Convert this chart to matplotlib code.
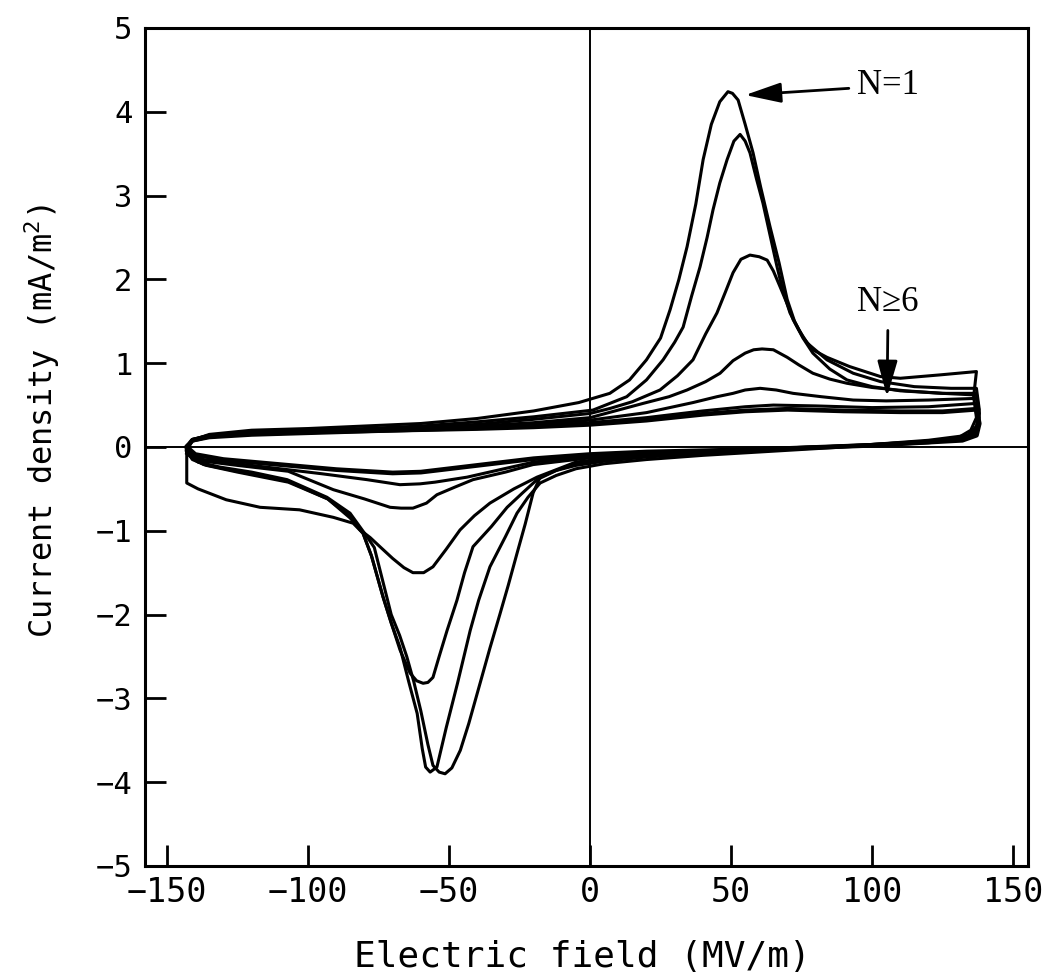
import matplotlib
matplotlib.use("Agg")
import matplotlib.pyplot as plt

# electric field (MV/m) and current density (mA/m^2).
# each cycle is one closed path: rising branch, right turn-over, falling branch

loop1_e = [-143, -141, -135, -120, -100, -80, -60, -40, -20, -4, 7, 14, 20, 25, 28.4, 31.5, 34.4,
           37.5, 40.1, 43, 46, 48.9, 50.5, 52.5, 55, 57.8, 60.5, 63.8, 67, 69.9, 72.5, 75.5, 79,
           84, 92, 103, 110, 124, 137, 136, 137, 135,
           130, 115, 100, 80, 60, 40, 20, 5, -5, -12, -17.7, -22, -25.9, -30, -35.5, -39.5, -42.5,
           -47, -51, -54.3, -56.7, -58.3, -59.5, -61.3, -64.3, -67.4, -70.5, -73.4, -77.5, -80.5,
           -84, -91, -103, -117, -129, -139, -143, -143, -143]
loop1_j = [-0.05, 0.08, 0.15, 0.2, 0.22, 0.25, 0.28, 0.34, 0.43, 0.53, 0.64, 0.8, 1.04, 1.3, 1.64,
           2.0, 2.39, 2.9, 3.43, 3.85, 4.12, 4.24, 4.22, 4.14, 3.85, 3.51, 3.1, 2.63, 2.2, 1.76,
           1.5, 1.31, 1.16, 1.07, 0.96, 0.84, 0.82, 0.86, 0.9, 0.6, 0.35, 0.2,
           0.1, 0.05, 0.02, -0.02, -0.06, -0.1, -0.15, -0.2, -0.26, -0.34, -0.43, -0.6, -0.79,
           -1.07, -1.43, -1.83, -2.19, -2.82, -3.35, -3.82, -3.88, -3.82, -3.6, -3.18, -2.8,
           -2.39, -2.1, -1.79, -1.3, -1.03, -0.91, -0.84, -0.75, -0.72, -0.63, -0.5, -0.43,
           -0.25, -0.05]

loop2_e = [-143, -141, -135, -120, -100, -80, -60, -40, -20, 1, 13, 20, 25.9, 30, 33, 36, 39, 41.5,
           43.6, 46, 48.6, 51, 53.2, 55, 56.7, 59, 61.3, 64, 66.3, 68.5, 70.9, 74, 77, 84, 93.3,
           103, 115, 128, 137, 138, 137, 134,
           120, 100, 80, 60, 40, 20, 5, -5, -12, -17.7, -20.2, -23, -25.9, -29, -32, -35.5, -39,
           -43, -46, -49, -51.4, -53.5, -55.7, -57.5, -60, -62.5, -65, -67.5, -70.5, -73.5, -76.5,
           -79.1, -85.1, -93.3, -107.4, -120, -131.2, -139, -143]
loop2_j = [-0.02, 0.09, 0.14, 0.18, 0.2, 0.22, 0.25, 0.3, 0.36, 0.44, 0.6, 0.8, 1.04, 1.25, 1.43,
           1.8, 2.15, 2.5, 2.83, 3.15, 3.43, 3.65, 3.73, 3.65, 3.51, 3.2, 2.91, 2.5, 2.15, 1.85,
           1.6, 1.4, 1.24, 1.04, 0.88, 0.78, 0.72, 0.7, 0.7, 0.45, 0.25, 0.14,
           0.08, 0.03, -0.01, -0.04, -0.08, -0.12, -0.17, -0.22, -0.28, -0.36, -0.55, -0.92,
           -1.27, -1.65, -2.0, -2.4, -2.82, -3.3, -3.62, -3.83, -3.9, -3.88, -3.8, -3.55, -3.15,
           -2.8, -2.5, -2.25, -2.0, -1.6, -1.2, -1.07, -0.79, -0.6, -0.39, -0.3, -0.24, -0.18,
           -0.08]

loop3_e = [-143, -141, -135, -120, -100, -80, -60, -40, -20, 0, 7.1, 15, 24.8, 31, 36.5, 41, 45,
           48, 50.7, 53.5, 56.7, 60, 62.8, 65, 67.4, 70, 72, 75.5, 79, 85, 91.1, 100, 110, 125,
           137, 138, 137, 134,
           120, 100, 80, 60, 40, 20, 5, -5, -12, -18.8, -24, -29.4, -35, -41.5, -44.5, -47.2,
           -50.7, -53.5, -55.7, -57.5, -59.2, -61.5, -63.8, -67.4, -70.5, -73.4, -77.5, -80.5,
           -85, -93, -107, -125, -136, -141, -143]
loop3_j = [0.0, 0.09, 0.13, 0.17, 0.19, 0.21, 0.23, 0.27, 0.33, 0.4, 0.46, 0.54, 0.68, 0.85, 1.04,
           1.35, 1.6, 1.85, 2.08, 2.24, 2.29, 2.27, 2.23, 2.1, 1.91, 1.7, 1.52, 1.3, 1.12, 0.93,
           0.8, 0.72, 0.67, 0.64, 0.64, 0.4, 0.2, 0.12,
           0.07, 0.03, 0.0, -0.03, -0.07, -0.1, -0.15, -0.2, -0.28, -0.39, -0.55, -0.72, -0.95,
           -1.19, -1.5, -1.83, -2.19, -2.5, -2.75, -2.81, -2.82, -2.79, -2.7, -2.42, -2.1, -1.79,
           -1.3, -1.03, -0.85, -0.62, -0.42, -0.3, -0.22, -0.15, -0.05]

loop4_e = [-143, -141, -135, -120, -100, -70, -40, -20, 0, 18.8, 28, 34.4, 41, 46.1, 50.7, 55, 58,
           61, 65, 69.9, 74, 79, 85, 91.1, 100, 112, 125, 137, 138, 137, 133,
           120, 100, 80, 60, 40, 20, 5, -5, -18.8, -27, -35.5, -41, -46.1, -51, -55.7, -59, -62.8,
           -66, -70, -74.5, -78, -81.5, -85, -93, -107, -125, -137, -141, -143]
loop4_j = [0.0, 0.08, 0.12, 0.16, 0.18, 0.21, 0.25, 0.29, 0.35, 0.52, 0.6, 0.68, 0.78, 0.88, 1.03,
           1.12, 1.16, 1.17, 1.16, 1.07, 0.98, 0.88, 0.81, 0.76, 0.71, 0.67, 0.64, 0.62, 0.4,
           0.2, 0.11,
           0.06, 0.02, -0.01, -0.03, -0.06, -0.1, -0.14, -0.18, -0.36, -0.5, -0.67, -0.82, -0.99,
           -1.22, -1.43, -1.5, -1.5, -1.44, -1.33, -1.19, -1.08, -0.99, -0.83, -0.62, -0.41,
           -0.29, -0.21, -0.14, -0.05]

loop5_e = [-143, -141, -135, -120, -100, -70, -40, -20, 0, 20, 36.5, 45, 50.7, 55, 60.3, 66, 72,
           82, 93.3, 105, 120, 137, 138, 137, 133,
           120, 100, 70, 40, 20, 0, -20.2, -30, -41.5, -48, -54.3, -58, -62.8, -67, -70.9, -80,
           -91, -107, -125, -137, -141, -143]
loop5_j = [0.0, 0.08, 0.12, 0.15, 0.17, 0.2, 0.24, 0.27, 0.32, 0.41, 0.53, 0.6, 0.64, 0.68, 0.7,
           0.68, 0.64, 0.6, 0.56, 0.55, 0.56, 0.58, 0.35, 0.18, 0.1,
           0.05, 0.02, -0.01, -0.05, -0.08, -0.13, -0.21, -0.3, -0.39, -0.48, -0.57, -0.67,
           -0.73, -0.73, -0.72, -0.62, -0.51, -0.29, -0.22, -0.17, -0.12, -0.04]

loop6_e = [-143, -141, -135, -120, -100, -70, -40, -20, 0, 20, 40, 55, 65, 80, 100, 120, 137, 138,
           137, 132,
           100, 60, 20, 0, -20, -43.6, -55, -60.3, -67.4, -79.1, -95, -107.4, -125, -137, -141,
           -143]
loop6_j = [0.0, 0.07, 0.11, 0.14, 0.16, 0.19, 0.22, 0.25, 0.29, 0.35, 0.43, 0.48, 0.5, 0.49, 0.47,
           0.48, 0.52, 0.3, 0.15, 0.09,
           0.02, -0.02, -0.07, -0.11, -0.18, -0.36, -0.42, -0.44, -0.45, -0.39, -0.32, -0.27,
           -0.2, -0.15, -0.1, -0.03]

loop7_e = [-143, -141, -135, -120, -100, -70, -40, -20, 0, 20, 40, 55, 70, 90, 110, 125, 137, 138,
           137, 132,
           100, 60, 20, 0, -20, -40, -60, -70, -90, -110, -130, -140, -143]
loop7_j = [0.0, 0.08, 0.13, 0.16, 0.18, 0.2, 0.22, 0.24, 0.27, 0.32, 0.39, 0.43, 0.45, 0.43, 0.42,
           0.42, 0.45, 0.28, 0.14, 0.08,
           0.02, -0.03, -0.06, -0.09, -0.14, -0.22, -0.3, -0.31, -0.27, -0.21, -0.15, -0.09, 0.0]

x_ticks = [-150, -100, -50, 0, 50, 100, 150]
y_ticks = [-5, -4, -3, -2, -1, 0, 1, 2, 3, 4, 5]

plt.rcParams['font.family'] = ['DejaVu Sans Mono']
plt.rcParams['mathtext.fontset'] = 'custom'
plt.rcParams['mathtext.rm'] = 'DejaVu Sans Mono'
plt.rcParams['mathtext.it'] = 'DejaVu Sans Mono'

fig = plt.figure(figsize=(10.47, 9.72), dpi=100)
ax = fig.add_axes([0.1385, 0.1091, 0.8434, 0.8621])

ax.axhline(0, color='black', lw=1.4, zorder=1)
ax.axvline(0, color='black', lw=1.4, zorder=1)

for e, j in [(loop1_e, loop1_j), (loop2_e, loop2_j), (loop3_e, loop3_j),
             (loop4_e, loop4_j), (loop5_e, loop5_j), (loop6_e, loop6_j)]:
    ax.plot(e, j, color='black', lw=2.2, solid_joinstyle='round', zorder=2)
ax.plot(loop7_e, loop7_j, color='black', lw=3.4, solid_joinstyle='round', zorder=2)

ax.set_xlim(-157.8, 155.3)
ax.set_ylim(-5, 5)
ax.set_xticks(x_ticks)
ax.set_yticks(y_ticks)
ax.tick_params(direction='in', length=15, width=2, top=False, right=False)
ax.tick_params(axis='x', pad=7, labelsize=24)
ax.tick_params(axis='y', pad=9, labelsize=22)
for s in ax.spines.values():
    s.set_linewidth(2.2)

ax.set_xlabel('Electric field (MV/m)', fontsize=26)
ax.xaxis.set_label_coords(0.495, -0.088)
ax.set_ylabel('Current density (mA/m$^2$)', fontsize=23)
ax.yaxis.set_label_coords(-0.094, 0.531)

serif = ['Liberation Serif', 'DejaVu Serif']
ax.annotate('N=1', xy=(55, 4.2), xytext=(94.7, 4.31), ha='left', va='center',
            fontsize=25, family=serif,
            arrowprops=dict(arrowstyle='-|>,head_length=1.0,head_width=0.28', color='black',
                            lw=2, shrinkA=4, shrinkB=0, mutation_scale=22))
ax.annotate('N\u22656', xy=(105.3, 0.6), xytext=(105.7, 1.72), ha='center', va='center',
            fontsize=25, family=serif,
            arrowprops=dict(arrowstyle='-|>,head_length=1.0,head_width=0.28', color='black',
                            lw=2, shrinkA=6, shrinkB=0, mutation_scale=22))

fig.savefig('out.png', dpi=100)
